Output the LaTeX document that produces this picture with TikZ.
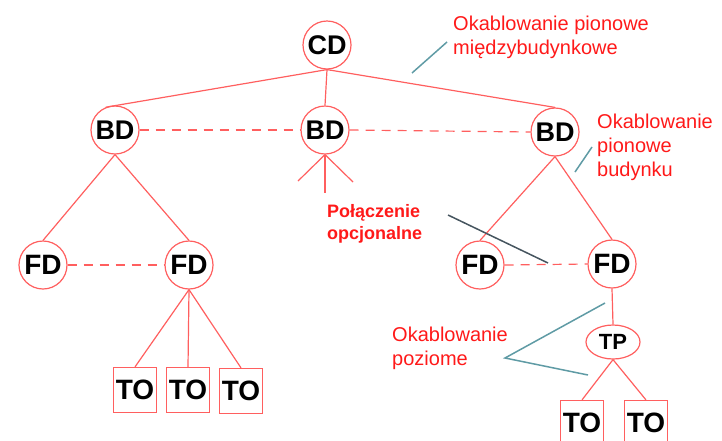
\documentclass[tikz,border=0pt]{standalone}
\usepackage{fontspec}
\setmainfont{Liberation Sans}
\usetikzlibrary{shapes.geometric}
\definecolor{lred}{RGB}{255,95,95}
\definecolor{tred}{RGB}{255,25,25}
\definecolor{callout}{RGB}{95,155,165}
\definecolor{callouttwo}{RGB}{70,85,95}
\begin{document}
\begin{tikzpicture}[x=1pt,y=-1pt,
 circ/.style={circle,draw=lred,line width=1.2pt,fill=white,minimum size=48pt,inner sep=0pt,font=\fontsize{27}{27}\selectfont\bfseries},
 fdc/.style={circ,font=\fontsize{28}{28}\selectfont\bfseries},
 box/.style={rectangle,draw=lred,line width=1.2pt,fill=white,minimum width=43pt,minimum height=45pt,inner sep=0pt,font=\fontsize{28}{28}\selectfont\bfseries},
 tp/.style={ellipse,draw=lred,line width=1.2pt,fill=white,minimum width=54pt,minimum height=34pt,inner sep=0pt,font=\fontsize{22}{22}\selectfont\bfseries},
 link/.style={draw=lred,line width=1.2pt},
 opt/.style={link,dash pattern=on 9pt off 7pt},
 note/.style={text=tred,align=left,inner sep=0pt,anchor=north west,font=\fontsize{20}{24}\selectfont},
 pointer/.style={draw=callout,line width=1.5pt}
]
\useasboundingbox (0,0) rectangle (722,440);

% nodes
\node[circ] (CD) at (327,45) {CD};
\node[circ] (BDl) at (115,130) {BD};
\node[circ] (BDm) at (325,130) {BD};
\node[circ] (BDr) at (555,132) {BD};
\node[fdc] (FDa) at (43,265) {FD};
\node[fdc] (FDb) at (189,265) {FD};
\node[fdc] (FDc) at (480,265) {FD};
\node[fdc] (FDd) at (612,264) {FD};
\node[tp] (TP) at (613,342) {TP};
\node[box] (TO1) at (135,390) {TO};
\node[box] (TO2) at (188,390) {TO};
\node[box] (TO3) at (241,391) {TO};
\node[box] (TO4) at (582,423) {TO};
\node[box] (TO5) at (646,423) {TO};

% tree links
\draw[link] (CD.south) -- (BDl.112);
\draw[link] (CD.south) -- (BDm.north);
\draw[link] (CD.south) -- (BDr.north);
\draw[link] (BDl.south) -- (FDa.north);
\draw[link] (BDl.south) -- (FDb.north);
\draw[link] (BDr.south) -- (FDc.north);
\draw[link] (BDr.south) -- (FDd.north);
\draw[link] (FDb.south) -- (TO1.north);
\draw[link] (FDb.south) -- (TO2.north);
\draw[link] (FDb.south) -- (TO3.north);
\draw[link] (FDd.south) -- (TP.north);
\draw[link] (TP.south) -- (TO4.north);
\draw[link] (TP.south) -- (TO5.north);

% stub under middle BD
\coordinate (s1) at (298,181);
\coordinate (s2) at (325,193);
\coordinate (s3) at (353,182);
\draw[link] (BDm.south) -- (s1);
\draw[link] (BDm.south) -- (s2);
\draw[link] (BDm.south) -- (s3);

% optional links
\draw[opt] (BDl.east) -- (BDm.west);
\draw[opt] (BDm.east) -- (BDr.west);
\draw[opt] (FDa.east) -- (FDb.west);
\draw[opt] (FDc.east) -- (FDd.west);

% notes
\node[note] (n1) at (453,16) {Okablowanie pionowe\\międzybudynkowe};
\node[note] (n2) at (597,114) {Okablowanie\\pionowe\\budynku};
\node[note,font=\fontsize{18}{22}\selectfont\bfseries] (n3) at (327,204) {Połączenie\\opcjonalne};
\node[note] (n4) at (392,327) {Okablowanie\\poziome};

% pointers
\coordinate (p1a) at (412,73);
\coordinate (p1b) at (447,42);
\draw[pointer] (p1a) -- (p1b);
\coordinate (p2a) at (575,172);
\coordinate (p2b) at (592,147);
\draw[pointer] (p2a) -- (p2b);
\coordinate (p3a) at (448,215);
\coordinate (p3b) at (548,263);
\draw[pointer,draw=callouttwo] (p3a) -- (p3b);
\coordinate (p4a) at (605,303);
\coordinate (p4b) at (505,358);
\coordinate (p4c) at (588,375);
\draw[pointer] (p4a) -- (p4b) -- (p4c);
\end{tikzpicture}
\end{document}
